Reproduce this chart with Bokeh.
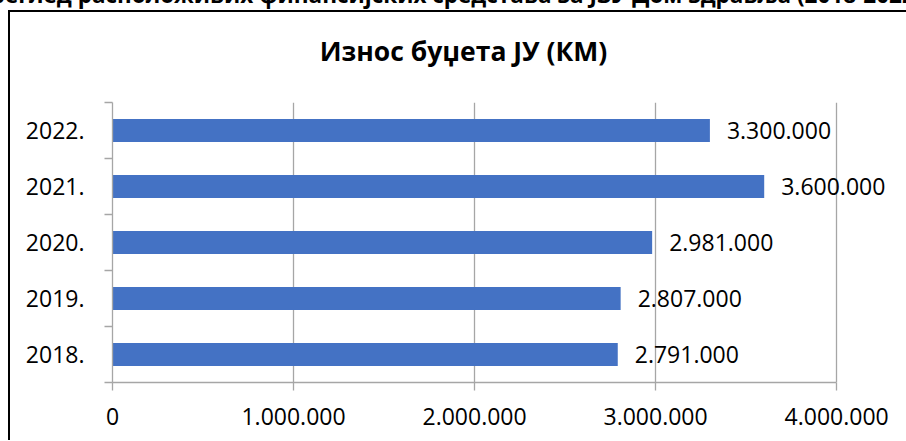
from bokeh.plotting import figure
from bokeh.models import Range1d, FixedTicker, ColumnDataSource, Div
from bokeh.layouts import column
from bokeh.core.properties import value
from bokeh.embed import file_html
from bokeh.resources import INLINE

years = ["2018.", "2019.", "2020.", "2021.", "2022."]
budgets = [2791000, 2807000, 2981000, 3600000, 3300000]
budget_labels = ["2.791.000", "2.807.000", "2.981.000", "3.600.000", "3.300.000"]
x_ticks = [0, 1000000, 2000000, 3000000, 4000000]
x_tick_labels = ["0", "1.000.000", "2.000.000", "3.000.000", "4.000.000"]
title_text = "Износ буџета ЈУ (КМ)"
header_text = "Преглед расположивих финансијских средстава за ЈЗУ Дом здравља (2018-2022)"

FONT = "Open Sans"
ypos = [i + 0.5 for i in range(len(years))]
src = ColumnDataSource(dict(y=ypos, v=budgets, lab=budget_labels))

top_html = (
    '<div style="position:relative;width:906px;height:100px;overflow:hidden;background:white;">'
    '<div style="position:absolute;left:-26px;top:-17px;white-space:nowrap;'
    'font-family:\'Open Sans\';font-weight:bold;font-size:22.5px;line-height:23px;color:black;">'
    + header_text + '</div>'
    '<div style="position:absolute;left:8px;top:10px;width:898px;height:2px;background:black;"></div>'
    '<div style="position:absolute;left:8px;top:10px;width:2px;height:90px;background:black;"></div>'
    '<div style="position:absolute;left:10px;top:33px;width:907px;text-align:center;white-space:nowrap;'
    'font-family:\'Open Sans\';font-weight:bold;font-size:26.5px;line-height:36px;color:black;">'
    + title_text + '</div>'
    '</div>')
top = Div(width=906, height=100, text=top_html, styles={"margin": "0", "padding": "0"})

p = figure(width=896, height=340, output_backend="svg", toolbar_location=None,
           x_range=Range1d(0, 4386000), y_range=Range1d(0, len(years)),
           min_border_left=102, min_border_right=0, min_border_top=2, min_border_bottom=58,
           styles={"border-left": "2px solid black", "margin-left": "8px"})
p.outline_line_color = None
p.background_fill_color = "white"
p.border_fill_color = "white"

p.hbar(y="y", right="v", left=0, height=0.41, source=src,
       fill_color="#4472C4", line_color=None)
p.text(x="v", y="y", text="lab", source=src, x_offset=17, text_align="left",
       text_baseline="middle", text_font=value(FONT), text_font_size="23px",
       text_color="black")

ax = p.xaxis[0]
ax.ticker = FixedTicker(ticks=x_ticks)
ax.major_label_overrides = {t: l for t, l in zip(x_ticks, x_tick_labels)}
ax.bounds = (0, 4000000)
ax.axis_line_color = "#a6a6a6"
ax.axis_line_width = 1.3
ax.major_tick_line_color = "#a6a6a6"
ax.major_tick_line_width = 1.3
ax.major_tick_in = 0
ax.major_tick_out = 8
ax.minor_tick_line_color = None
ax.major_label_standoff = 17
ax.major_label_text_font = FONT
ax.major_label_text_font_size = "23px"
ax.major_label_text_color = "black"

ay = p.yaxis[0]
ay.ticker = FixedTicker(ticks=ypos, minor_ticks=list(range(len(years) + 1)))
ay.major_label_overrides = {y: l for y, l in zip(ypos, years)}
ay.axis_line_color = "#a6a6a6"
ay.axis_line_width = 1.3
ay.major_tick_line_color = None
ay.major_tick_in = 0
ay.major_tick_out = 0
ay.minor_tick_line_color = "#a6a6a6"
ay.minor_tick_line_width = 1.3
ay.minor_tick_in = 0
ay.minor_tick_out = 8
ay.major_label_standoff = 20
ay.major_label_text_font = FONT
ay.major_label_text_font_size = "23px"
ay.major_label_text_color = "black"

p.xgrid.ticker = FixedTicker(ticks=x_ticks)
p.xgrid.grid_line_color = "#a6a6a6"
p.xgrid.grid_line_width = 1.3
p.ygrid.grid_line_color = None

layout = column(top, p, spacing=0)
open("out.html", "w").write(file_html(layout, INLINE))
